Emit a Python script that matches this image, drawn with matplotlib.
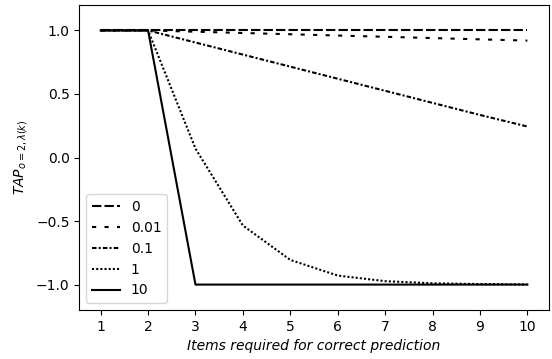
import numpy as np
import matplotlib
matplotlib.use("Agg")
import matplotlib.pyplot as plt

# items required (k) and TAP values per lambda
k = [1, 2, 3, 4, 5, 6, 7, 8, 9, 10]
lambdas = ["0", "0.01", "0.1", "1", "10"]
tap_0 = [1.0, 1.0, 1.0, 1.0, 1.0, 1.0, 1.0, 1.0, 1.0, 1.0]
tap_001 = [1.0, 1.0, 0.99, 0.98, 0.97, 0.96, 0.95, 0.94, 0.93, 0.92]
tap_01 = [1.0, 1.0, 0.905, 0.81, 0.715, 0.62, 0.525, 0.43, 0.335, 0.244]
tap_1 = [1.0, 1.0, 0.07, -0.535, -0.806, -0.929, -0.973, -0.99, -0.996, -0.999]
tap_10 = [1.0, 1.0, -1.0, -1.0, -1.0, -1.0, -1.0, -1.0, -1.0, -1.0]

series = [tap_0, tap_001, tap_01, tap_1, tap_10]
styles = [(0, (4.5, 1.5)), (0, (2, 4)), (0, (2.2, 1, 1, 1)), (0, (1, 1)), "-"]

fig, ax = plt.subplots(figsize=(5.52, 3.59), dpi=100)
fig.subplots_adjust(left=0.1437, right=0.994, bottom=0.1365, top=0.986)

for vals, ls, lab in zip(series, styles, lambdas):
    ax.plot(k, vals, color="black", linestyle=ls, linewidth=1.5, label=lab)

ax.set_ylim(-1.2, 1.2)
ax.set_xticks(k)
ax.set_yticks([-1.0, -0.5, 0.0, 0.5, 1.0])
ax.set_xlabel("Items required for correct prediction", style="italic")
ax.set_ylabel(r"$TAP_{o=2,\lambda(k)}$")
ax.legend(loc="lower left")

fig.savefig("out.png", dpi=100)
